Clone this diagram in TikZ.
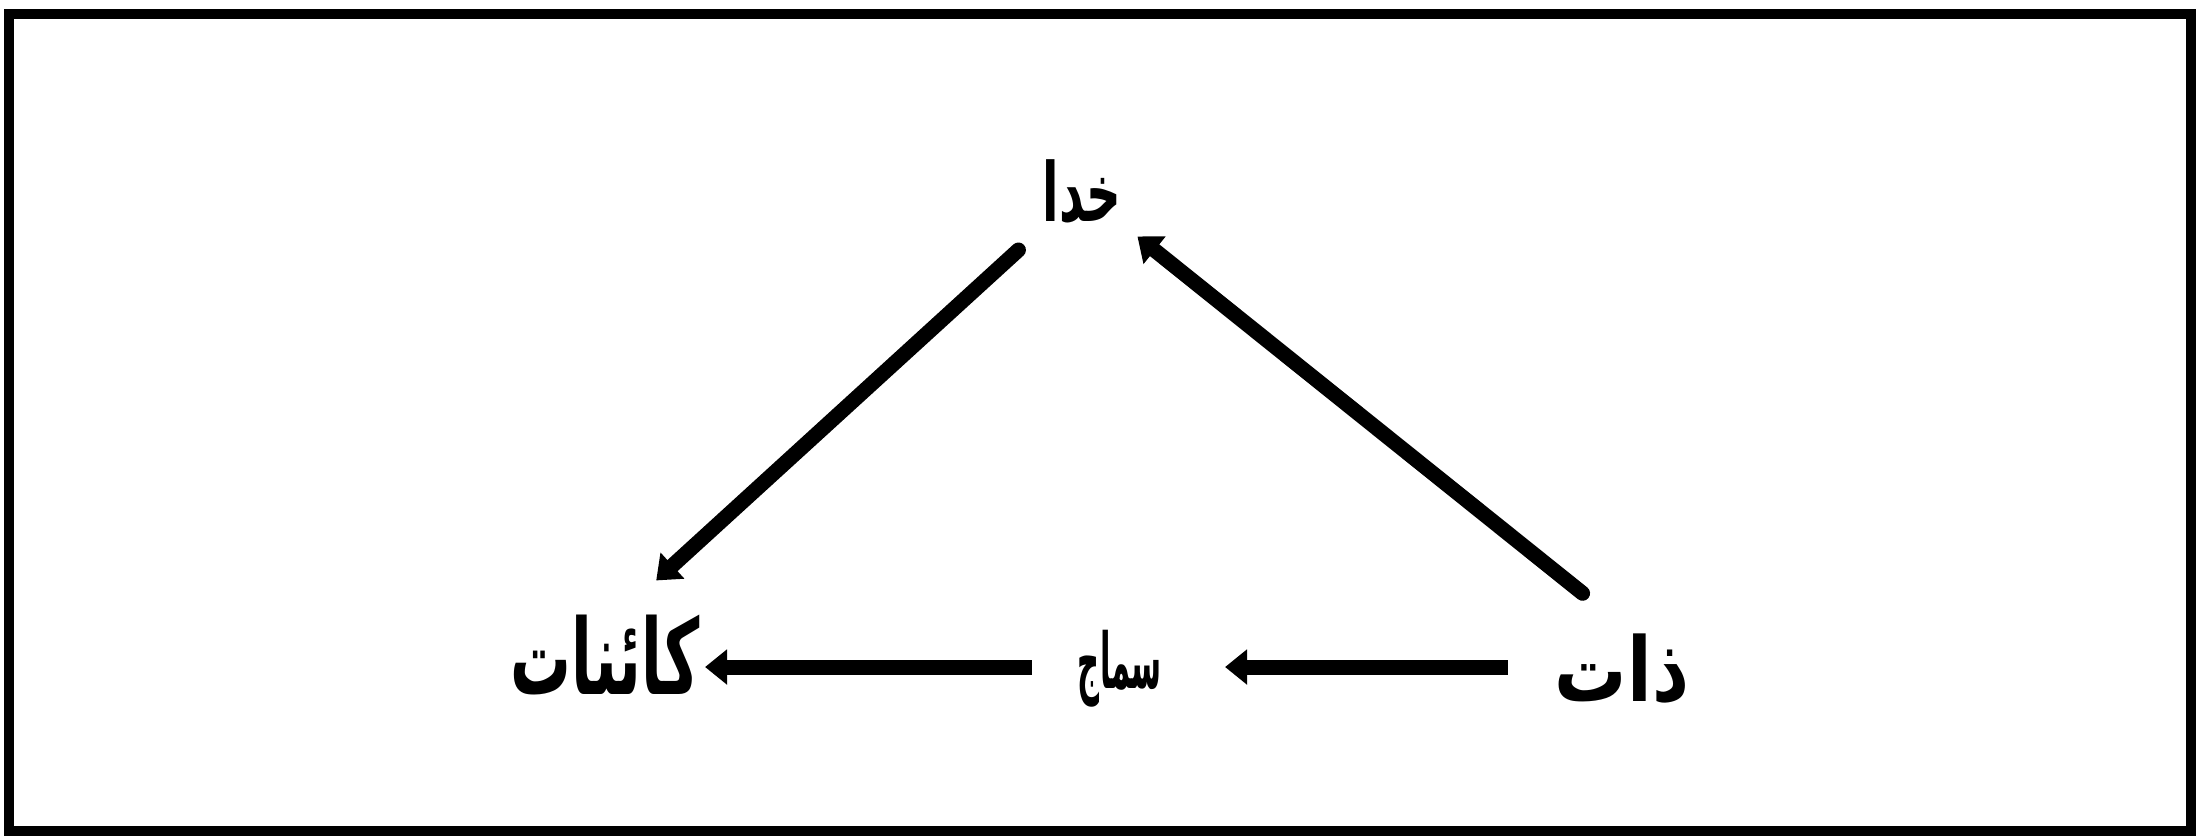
\documentclass[tikz,border=0pt]{standalone}
\usepackage{fontspec}
\newfontfamily\arabicfont[Script=Arabic]{DejaVu Sans}
\TeXXeTstate=1
\usetikzlibrary{arrows.meta}
\newcommand{\urdubox}[3]{\resizebox*{#1}{#2}{\arabicfont\bfseries\fontsize{22}{26}\selectfont\beginR #3\endR}}
\begin{document}
\begin{tikzpicture}[x=0.01cm,y=-0.01cm,
  lbl/.style={inner sep=0pt},
  arr/.style={line width=0.15cm, -{Triangle[width=0.34cm,length=0.22cm]}},
  diag/.style={arr, line cap=round},
  frame/.style={line width=0.1cm}]
\useasboundingbox (0,0) rectangle (2196,838);
\draw[frame] (9,14) rectangle (2191,831);
\node[lbl] (khuda) at (1082,192) {\urdubox{0.79cm}{0.64cm}{خدا}};
\node[lbl] (zat) at (1622,669) {\urdubox{1.34cm}{0.70cm}{ذات}};
\node[lbl] (samaj) at (1120,669) {\urdubox{0.84cm}{0.77cm}{سماج}};
\node[lbl] (kainat) at (605,655) {\urdubox{1.89cm}{0.80cm}{کائنات}};
\draw[diag, shorten <=1.21cm, shorten >=0.71cm] ([xshift=0.55cm]zat.center) -- (khuda.center);
\draw[diag, shorten <=0.86cm, shorten >=1.18cm] (khuda.center) -- ([xshift=-0.36cm,yshift=-0.05cm]kainat.center);
\draw[arr, shorten <=1.14cm, shorten >=1.05cm] ([yshift=0.02cm]zat.center) -- ([yshift=0.02cm]samaj.center);
\draw[arr, shorten <=0.88cm, shorten >=1.00cm] ([yshift=0.02cm]samaj.center) -- ([yshift=0.02cm]samaj.center -| kainat.center);
\end{tikzpicture}
\end{document}
